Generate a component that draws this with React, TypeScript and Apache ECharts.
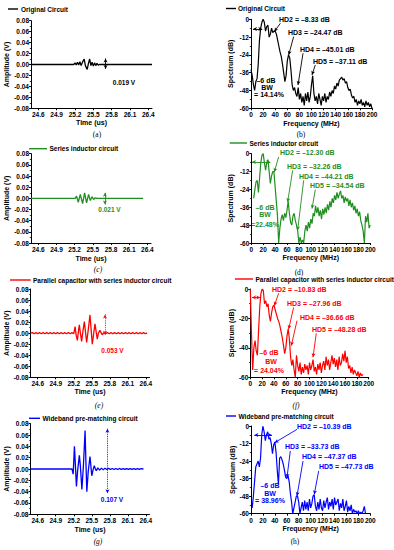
import React, { useEffect, useRef } from "react";
import * as echarts from "echarts";

// ---------------- DATA ----------------
const timeTicks = [24.6, 24.9, 25.2, 25.5, 25.8, 26.1, 26.4];

const originalTime: [number, number][] = [
  [24.48, 0], [25.18, 0], [25.2, 0.003], [25.22, -0.001], [25.24, 0.004], [25.26, -0.001],
  [25.28, 0.005], [25.3, -0.002], [25.33, 0.006], [25.35, 0.01], [25.37, -0.002], [25.4, -0.009],
  [25.42, 0.002], [25.44, 0.01], [25.46, -0.002], [25.48, 0.004], [25.5, -0.003], [25.52, 0.003],
  [25.54, -0.002], [25.56, 0.002], [25.58, -0.001], [25.6, 0], [26.46, 0],
];

const seriesTime: [number, number][] = [
  [24.48, 0], [25.21, 0], [25.232, 0.004], [25.26, -0.007], [25.293, 0.007], [25.331, -0.0095],
  [25.364, 0.01], [25.397, -0.008], [25.43, 0.007], [25.458, -0.004], [25.487, 0.003],
  [25.513, -0.002], [25.54, 0.001], [25.57, 0], [26.33, 0],
];

const parallelTime: [number, number][] = [
  [24.48, 0], [24.51, 0.001], [24.54, -0.001], [24.57, 0.001], [24.6, -0.001], [24.63, 0.001],
  [24.66, -0.001], [24.69, 0.001], [24.72, -0.001], [24.75, 0.001], [24.78, -0.001], [24.81, 0.001],
  [24.84, -0.001], [24.87, 0.001], [24.9, -0.001], [24.93, 0.001], [24.96, -0.001], [24.99, 0.001],
  [25.02, -0.001], [25.05, 0.001], [25.08, -0.001], [25.11, 0.001], [25.14, -0.001], [25.17, 0.001],
  [25.2, -0.001], [25.222, 0.012], [25.24, -0.004], [25.26, -0.013], [25.278, 0.004], [25.293, 0.015],
  [25.31, 0.0], [25.331, -0.015], [25.35, 0.002], [25.376, 0.021], [25.395, 0.002], [25.414, -0.017],
  [25.44, 0.005], [25.47, 0.033], [25.49, 0.005], [25.508, -0.02], [25.53, -0.002], [25.553, 0.017],
  [25.572, 0.003], [25.591, -0.011], [25.61, 0.0], [25.635, 0.005], [25.655, 0.001], [25.673, -0.003],
  [25.7, 0.001], [25.73, -0.001], [25.76, 0.001], [25.79, -0.001], [25.82, 0.001], [25.85, -0.001],
  [25.88, 0.001], [25.91, -0.001], [25.94, 0.001], [25.97, -0.001], [26.0, 0.001], [26.03, -0.001],
  [26.06, 0.001], [26.09, -0.001], [26.12, 0.001], [26.15, -0.001], [26.18, 0.001], [26.21, -0.001],
  [26.24, 0.001], [26.27, -0.001], [26.3, 0.001], [26.33, -0.001], [26.36, 0.001], [26.39, -0.001],
  [26.42, 0],
];

const widebandTime: [number, number][] = [
  [24.48, 0], [25.17, 0], [25.19, -0.009], [25.211, 0.04], [25.228, 0.005], [25.244, -0.031],
  [25.265, -0.002], [25.293, 0.024], [25.31, 0.005], [25.335, -0.036], [25.36, 0.005], [25.388, 0.068],
  [25.4, 0.02], [25.417, -0.04], [25.44, -0.005], [25.47, 0.022], [25.485, 0.005], [25.5, -0.012],
  [25.52, -0.002], [25.541, 0.006], [25.557, 0.001], [25.574, -0.003], [25.6, 0.002], [25.63, -0.002],
  [25.66, 0.0015], [25.69, -0.0015], [25.72, 0.0015], [25.75, -0.001], [25.78, 0.0015], [25.81, -0.001],
  [25.84, 0.001], [25.87, -0.001], [25.9, 0.001], [25.93, -0.001], [25.96, 0.001], [25.99, -0.0008],
  [26.02, 0.0008], [26.05, -0.0008], [26.08, 0.0008], [26.11, -0.0008], [26.14, 0.0008], [26.17, -0.0008],
  [26.2, 0.0006], [26.23, -0.0006], [26.26, 0.0006], [26.29, -0.0006], [26.32, 0.0005], [26.36, 0],
];

const freqMHz = [
  0, 2, 4, 6, 8, 10, 12, 14, 16, 18, 20, 22, 24, 26, 28, 30, 32, 34, 36, 38,
  40, 42, 44, 46, 48, 50, 52, 54, 56, 58, 60, 62, 64, 66, 68, 70, 72, 74, 76, 78,
  80, 82, 84, 86, 88, 90, 92, 94, 96, 98, 100, 102, 104, 106, 108, 110, 112, 114, 116, 118,
  120, 122, 124, 126, 128, 130, 132, 134, 136, 138, 140, 142, 144, 146, 148, 150, 152, 154, 156, 158,
  160, 162, 164, 166, 168, 170, 172, 174, 176, 178, 180, 182, 184, 186, 188, 190, 192, 194, 196, 198,
  200,
];

const originalSpec: (number | null)[] = [
  -34, -38, -44, -48, -42, -40, -30, -14, -6, -2,
  0, -2, -8, -5, -4, -12, -10, -6, -9, -8,
  -8, -10, -14, -18, -22, -25, -30, -36, -42, -38,
  -28, -24, -26, -34, -44, -48, -46, -50, -52, -46,
  -54, -50, -56, -52, -58, -50, -55, -49, -56, -52,
  -44, -38, -50, -55, -52, -57, -50, -54, -58, -52,
  -55, -50, -56, -52, -54, -49, -52, -48, -50, -45,
  -47, -43, -45, -41, -40, -39, -41, -40, -43, -42,
  -46, -48, -47, -51, -53, -52, -56, -54, -58, -55,
  -57, -54, -58, -56, -59, -55, -58, -56, -59, -57,
  -60,
];

const seriesSpec: (number | null)[] = [
  null, null, -30, -24, -19, -18, -26, -16, -6, -1,
  0, -6, -11, -6, -4, -12, -20, -15, -12, -12,
  -22, -32, -42, -60, -50, -44, -41, -45, -40, -43,
  -38, -32, -40, -46, -48, -42, -40, -45, -48, -52,
  -60, -56, -60, -58, -60, -52, -48, -52, -46, -50,
  -44, -47, -40, -42, -35, -40, -36, -42, -38, -44,
  -37, -41, -36, -40, -34, -38, -32, -36, -30, -33,
  -28, -31, -26, -30, -27, -25, -30, -28, -33, -29,
  -32, -30, -35, -31, -36, -33, -38, -35, -40, -37,
  -42, -39, -45, -48, -52, -60, -42, -46, -40, -50,
  -48,
];

const parallelSpec: (number | null)[] = [
  0, -30, -55, -40, -35, -42, -45, -28, -12, -3,
  0, -1, -10, -8, -12, -10, -18, -22, -16, -12,
  -11, -14, -17, -20, -22, -25, -29, -33, -38, -44,
  -40, -32, -27, -34, -46, -52, -48, -55, -60, -45,
  -52, -56, -50, -58, -53, -57, -51, -55, -52, -58,
  -50, -55, -52, -48, -56, -53, -58, -51, -55, -50,
  -57, -52, -49, -55, -46, -52, -48, -55, -50, -45,
  -51, -47, -53, -48, -55, -46, -52, -50, -44, -49,
  -42, -50, -46, -54, -52, -57, -53, -58, -55, -57,
  -59, -56, -60, -57, -59, -58, null, null, null, null,
  null,
];

const widebandSpec: (number | null)[] = [
  null, -56, -48, -38, -28, -26, -24, -28, -22, -6,
  0, -4, -10, -6, -4, -9, -8, -12, -19, -13,
  -11, -18, -30, -40, -22, -21, -23, -26, -30, -35,
  -36, -34, -38, -46, -52, -60, -56, -52, -48, -48,
  -52, -60, -56, -52, -58, -51, -57, -52, -58, -50,
  -56, -53, -48, -47, -55, -58, -52, -57, -50, -56,
  -58, -51, -56, -52, -49, -57, -52, -55, -50, -57,
  -49, -54, -52, -50, -58, -53, -56, -50, -58, -55,
  -51, -59, -55, -58, -54, -60, -57, -59, -58, -60,
  -58, -60, -59, -60, -58, -55, -60, null, null, null,
  null,
];

const circuitNames = [
  "Original Circuit",
  "Series inductor circuit",
  "Parallel capacitor with series inductor circuit",
  "Wideband pre-matching circuit",
];
const ppLabels = ["0.019 V", "0.021 V", "0.053 V", "0.107 V"];
const hdLabels = [
  ["HD2 = –8.33 dB", "HD3 = –24.47 dB", "HD4 = –45.01 dB", "HD5 = –37.11 dB"],
  ["HD2 = –12.30 dB", "HD3 = –32.26 dB", "HD4 = –44.21 dB", "HD5 = –34.54 dB"],
  ["HD2 = –10.83 dB", "HD3 = –27.96 dB", "HD4 = –36.66 dB", "HD5 = –48.28 dB"],
  ["HD2 = –10.39 dB", "HD3 = –33.73 dB", "HD4 = –47.37 dB", "HD5 = –47.73 dB"],
];
const bwLabels = ["= 14.14%", "=22.48%", "= 24.04%", "= 38.96%"];
const timeCaptions = ["(a)", "(c)", "(e)", "(g)"];
const specCaptions = ["(b)", "(d)", "(f)", "(h)"];
const specIntervals = [12, 12, 20, 12];

// ---------------- LAYOUT / STYLE ----------------
const FONT = "'Liberation Sans', Arial, Helvetica, sans-serif";
const SERIF = "'Liberation Serif', 'Times New Roman', serif";
const colors = ["#000000", "#1f8f1f", "#ff0000", "#0000ff"];

const timeGrids = [
  { left: 31, top: 20.7, width: 121, height: 87.6 },
  { left: 31, top: 153.7, width: 120, height: 89.3 },
  { left: 30.5, top: 289, width: 119, height: 88.3 },
  { left: 30.5, top: 423.7, width: 119, height: 90.6 },
];
const specGrids = [
  { left: 251, top: 19.3, width: 121, height: 89 },
  { left: 251.3, top: 153.7, width: 119, height: 89.3 },
  { left: 250.3, top: 289, width: 118.4, height: 88.3 },
  { left: 251, top: 426, width: 119.3, height: 87.7 },
];
const timeNameGaps = [{ x: 9.5, y: 18 }, { x: 11.5, y: 20 }, { x: 11, y: 20 }, { x: 11.8, y: 20 }];
const specNameGaps = [{ x: 11.5, y: 17 }, { x: 8, y: 17.5 }, { x: 10.8, y: 15 }, { x: 10, y: 14 }];

const ppArrows = [
  [[25.7, 0.011], [25.7, -0.008]],
  [[25.7, 0.01], [25.7, -0.011]],
  [[25.72, 0.034], [25.72, -0.003]],
  [[25.76, 0.071], [25.76, -0.043]],
];
const ppDotted = [false, false, true, true];
const ppLabelPos = [[124, 82], [109.5, 209.7], [112.5, 350], [112, 499]];

const hdArrows = [
  [[[48.5, -2.7], [38.6, -8.3]], [[70.5, -11.7], [62.3, -24]], [[86, -22.9], [77.7, -44.3]], [[106.3, -30.8], [100.8, -37.5]]],
  [[[45.9, -2.2], [38.7, -12.3]], [[69.5, -11.2], [61.1, -32.5]], [[88, -17.9], [77.9, -51.5]], [[107.6, -24.2], [102, -36.9]]],
  [[[47.9, -2.9], [40.6, -11.3]], [[73.2, -12.5], [64.8, -27.2]], [[78.9, -21.5], [69.3, -38.5]], [[111.5, -30.1], [105.9, -46.4]]],
  [[[77.1, -2.3], [39.7, -11.4]], [[65.9, -17.1], [60.3, -35.4]], [[87.2, -24], [77.1, -47.9]], [[113.4, -30.8], [106.1, -46.8]]],
];
const hdLabelPos = [
  [[279, 19.5], [288, 32], [300, 49], [313, 61]],
  [[280, 152], [287, 166], [299, 176.5], [310, 185.5]],
  [[272, 289], [287, 303], [300, 317], [312, 329]],
  [[297, 426], [285, 446], [302, 456], [319, 466]],
];
const bwArrows = [
  [[3.3, -6.5], [18.7, -6.5]],
  [[1.1, -5.6], [32, -5.6]],
  [[2.8, -5.7], [16.9, -5.7]],
  [[5.6, -6.2], [35.2, -6.2]],
];
const bwTextPos = [
  [[266, 80], [267, 87], [269, 94]],
  [[265, 207], [265, 214.5], [265, 224]],
  [[269, 352], [271, 361], [269, 370]],
  [[270, 485], [270, 493], [270, 500.3]],
];
const timeLegendPos = [
  { x1: 8, x2: 18, y: 9, tx: 21 },
  { x1: 29, x2: 47, y: 148.7, tx: 49.5 },
  { x1: 10, x2: 30.7, y: 280, tx: 33 },
  { x1: 29, x2: 40, y: 418.3, tx: 42.5 },
];
const specLegendPos = [
  { x1: 226, x2: 236, y: 8.5, tx: 238 },
  { x1: 229.7, x2: 247, y: 143, tx: 249.5 },
  { x1: 235, x2: 253, y: 279, tx: 255.5 },
  { x1: 226, x2: 236, y: 416, tx: 238.5 },
];
const timeCaptionPos = [[97, 134], [98, 269], [99, 405.7], [98, 541.7]];
const specCaptionPos = [[301, 134], [299, 272], [296, 405.7], [295, 541]];
const captionItalic = [false, true, true, true];
const specCaptionItalic = [false, false, true, false];

const tickFont = { fontSize: 6.5, fontWeight: "bold" as const, color: "#000", fontFamily: FONT };
const nameFont = { fontSize: 7, fontWeight: "bold" as const, color: "#000", fontFamily: FONT };

function txt(text: string, x: number, y: number, color: string, font: string, align = "left") {
  return {
    type: "text",
    x,
    y,
    silent: true,
    style: {
      text,
      fill: color,
      font,
      align,
      textAlign: align,
      verticalAlign: "middle",
      textVerticalAlign: "middle",
    },
  };
}

function buildOption() {
  const grid: any[] = [];
  const xAxis: any[] = [];
  const yAxis: any[] = [];
  const series: any[] = [];
  const graphic: any[] = [];
  const times = [originalTime, seriesTime, parallelTime, widebandTime];
  const specs = [originalSpec, seriesSpec, parallelSpec, widebandSpec];

  for (let r = 0; r < 4; r++) {
    const c = colors[r];
    // ---- time panel ----
    const gi = grid.length;
    grid.push({ ...timeGrids[r], containLabel: false });
    xAxis.push({
      type: "value",
      gridIndex: gi,
      min: 24.48,
      max: 26.46,
      axisLine: { show: true, onZero: false, lineStyle: { color: "#000", width: 1 } },
      axisTick: { show: true, length: 2, customValues: timeTicks, lineStyle: { color: "#000", width: 1 } },
      axisLabel: { show: true, customValues: timeTicks, formatter: (v: number) => v.toFixed(1), margin: 3, ...tickFont },
      splitLine: { show: false },
      name: "Time (us)",
      nameLocation: "middle",
      nameGap: timeNameGaps[r].x,
      nameTextStyle: nameFont,
    });
    yAxis.push({
      type: "value",
      gridIndex: gi,
      min: -0.08,
      max: 0.08,
      interval: 0.02,
      axisLine: { show: true, onZero: false, lineStyle: { color: "#000", width: 1 } },
      axisTick: { show: true, length: 2, lineStyle: { color: "#000", width: 1 } },
      minorTick: { show: true, splitNumber: 2, length: 1.2, lineStyle: { color: "#000", width: 0.8 } },
      axisLabel: {
        formatter: (v: number) => (Math.abs(v) < 1e-9 ? "0.00" : v.toFixed(2)),
        margin: 2,
        ...tickFont,
      },
      splitLine: { show: false },
      name: "Amplitude (V)",
      nameLocation: "middle",
      nameRotate: 90,
      nameGap: timeNameGaps[r].y,
      nameTextStyle: nameFont,
    });
    const pa = ppArrows[r];
    series.push({
      type: "line",
      name: circuitNames[r],
      xAxisIndex: gi,
      yAxisIndex: gi,
      data: times[r],
      showSymbol: false,
      symbol: "none",
      silent: true,
      lineStyle: { color: c, width: 1.3 },
      itemStyle: { color: c },
      markLine: {
        silent: true,
        animation: false,
        label: { show: false },
        emphasis: { disabled: true },
        lineStyle: { color: c, width: 0.9, type: ppDotted[r] ? "dotted" : "solid" },
        data: [[
          { coord: pa[0], symbol: "arrow", symbolSize: [3, 4] },
          { coord: pa[1], symbol: "arrow", symbolSize: [3, 4] },
        ]],
      },
    });
    graphic.push(txt(ppLabels[r], ppLabelPos[r][0], ppLabelPos[r][1], c, `bold 6.5px ${FONT}`, "center"));
    const tl = timeLegendPos[r];
    graphic.push({ type: "line", silent: true, shape: { x1: tl.x1, y1: tl.y, x2: tl.x2, y2: tl.y }, style: { stroke: c, lineWidth: 1.4 } });
    graphic.push(txt(circuitNames[r], tl.tx, tl.y, "#000", `bold 6.5px ${FONT}`));
    graphic.push(
      txt(timeCaptions[r], timeCaptionPos[r][0], timeCaptionPos[r][1], "#000", `${captionItalic[r] ? "italic " : ""}7.5px ${SERIF}`, "center")
    );

    // ---- spectrum panel ----
    const si = grid.length;
    grid.push({ ...specGrids[r], containLabel: false });
    xAxis.push({
      type: "value",
      gridIndex: si,
      min: 0,
      max: 200,
      interval: 20,
      axisLine: { show: true, onZero: false, lineStyle: { color: "#000", width: 1 } },
      axisTick: { show: true, length: 2, lineStyle: { color: "#000", width: 1 } },
      axisLabel: { interval: 0, margin: 3, ...tickFont },
      splitLine: { show: false },
      name: "Frequency (MHz)",
      nameLocation: "middle",
      nameGap: specNameGaps[r].x,
      nameTextStyle: nameFont,
    });
    yAxis.push({
      type: "value",
      gridIndex: si,
      min: -60,
      max: 0,
      interval: specIntervals[r],
      axisLine: { show: true, onZero: false, lineStyle: { color: "#000", width: 1 } },
      axisTick: { show: true, length: 2, lineStyle: { color: "#000", width: 1 } },
      minorTick: { show: true, splitNumber: 2, length: 1.2, lineStyle: { color: "#000", width: 0.8 } },
      axisLabel: { margin: 2, ...tickFont },
      splitLine: { show: false },
      name: "Spectrum (dB)",
      nameLocation: "middle",
      nameRotate: 90,
      nameGap: specNameGaps[r].y,
      nameTextStyle: nameFont,
    });
    const specData = freqMHz
      .map((f, i) => [f, specs[r][i]])
      .filter((d) => d[1] !== null);
    const mlData: any[] = hdArrows[r].map((a) => [
      { coord: a[0], symbol: "none" },
      { coord: a[1], symbol: "arrow", symbolSize: [3, 4] },
    ]);
    mlData.push([
      { coord: bwArrows[r][0], symbol: "arrow", symbolSize: [3, 4] },
      { coord: bwArrows[r][1], symbol: "arrow", symbolSize: [3, 4] },
    ]);
    series.push({
      type: "line",
      name: circuitNames[r],
      xAxisIndex: si,
      yAxisIndex: si,
      data: specData,
      showSymbol: false,
      symbol: "none",
      silent: true,
      lineStyle: { color: c, width: 1.2 },
      itemStyle: { color: c },
      markLine: {
        silent: true,
        animation: false,
        label: { show: false },
        emphasis: { disabled: true },
        lineStyle: { color: c, width: 0.9, type: "solid" },
        data: mlData,
      },
    });
    hdLabels[r].forEach((h, k) => {
      graphic.push(txt(h, hdLabelPos[r][k][0], hdLabelPos[r][k][1], c, `bold 7px ${FONT}`));
    });
    const bw = bwTextPos[r];
    graphic.push(txt("–6 dB", bw[0][0], bw[0][1], c, `bold 7px ${FONT}`, "center"));
    graphic.push(txt("BW", bw[1][0], bw[1][1], c, `bold 7px ${FONT}`, "center"));
    graphic.push(txt(bwLabels[r], bw[2][0], bw[2][1], c, `bold 7px ${FONT}`, "center"));
    const sl = specLegendPos[r];
    graphic.push({ type: "line", silent: true, shape: { x1: sl.x1, y1: sl.y, x2: sl.x2, y2: sl.y }, style: { stroke: c, lineWidth: 1.4 } });
    graphic.push(txt(circuitNames[r], sl.tx, sl.y, "#000", `bold 6.5px ${FONT}`));
    graphic.push(
      txt(specCaptions[r], specCaptionPos[r][0], specCaptionPos[r][1], "#000", `${specCaptionItalic[r] ? "italic " : ""}7.5px ${SERIF}`, "center")
    );
  }

  return {
    animation: false,
    backgroundColor: "#ffffff",
    textStyle: { fontFamily: FONT },
    grid,
    xAxis,
    yAxis,
    series,
    graphic,
  };
}

export default function App() {
  const ref = useRef<HTMLDivElement>(null);
  useEffect(() => {
    document.body.style.margin = "0";
    if (!ref.current) return;
    const chart = echarts.init(ref.current, undefined, { renderer: "svg" });
    chart.setOption(buildOption() as any);
    return () => chart.dispose();
  }, []);
  return <div ref={ref} style={{ width: 394, height: 550 }} />;
}
